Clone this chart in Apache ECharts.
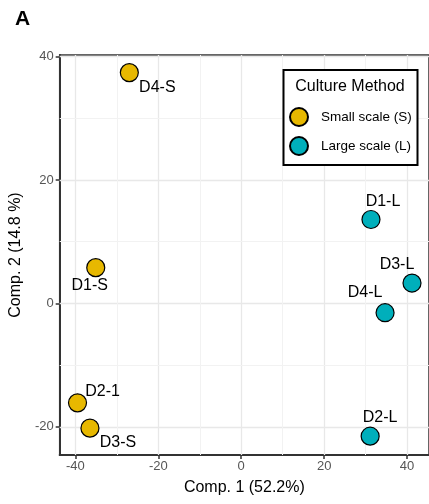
<!DOCTYPE html>
<html>
<head>
<meta charset="utf-8">
<script src="https://cdn.jsdelivr.net/npm/echarts@6/dist/echarts.min.js"></script>
<style>
  html, body { margin: 0; padding: 0; background: #fff; }
  #main { width: 429px; height: 504px; }
</style>
</head>
<body>
<div id="main"></div>
<script>
'use strict';

// PCA scores
const sampleNames = ['D4-S', 'D1-S', 'D2-1', 'D3-S', 'D1-L', 'D3-L', 'D4-L', 'D2-L'];
const comp1 = [-27.0, -35.1, -39.5, -36.5, 31.3, 41.2, 34.7, 31.1];
const comp2 = [37.4, 5.8, -16.1, -20.2, 13.6, 3.3, -1.5, -21.5];
const culture = ['S', 'S', 'S', 'S', 'L', 'L', 'L', 'L'];

const groupKeys = ['S', 'L'];
const groupNames = ['Small scale (S)', 'Large scale (L)'];
const groupColors = ['#E7B800', '#00AFBB'];

const majorTicks = [-40, -20, 0, 20, 40];
const xMinor = [-30, -10, 10, 30];
const yMinor = [-10, 10, 30];

// repelled label placement (px from point centre)
const labelOffsets = {
    'D4-S': [28, 15], 'D1-S': [-6, 18], 'D2-1': [25, -11], 'D3-S': [28, 14],
    'D1-L': [12, -18], 'D3-L': [-15, -18], 'D4-L': [-20, -20], 'D2-L': [10, -19]
};

const FONT = 'Liberation Sans, Arial, sans-serif';

function groupData(key) {
    const out = [];
    sampleNames.forEach(function (name, i) {
        if (culture[i] !== key) return;
        out.push({
            name: name,
            value: [comp1[i], comp2[i]],
            label: { offset: labelOffsets[name] }
        });
    });
    return out;
}

const majorStyle = { color: '#e8e8e8', width: 1.3, type: 'solid' };
const minorStyle = { color: '#f2f2f2', width: 1, type: 'solid' };
const gridLines = [];
majorTicks.forEach(function (v) {
    gridLines.push({ xAxis: v, lineStyle: majorStyle });
    gridLines.push({ yAxis: v, lineStyle: majorStyle });
});
xMinor.forEach(function (v) {
    gridLines.push({ xAxis: v, lineStyle: minorStyle });
});
yMinor.forEach(function (v) {
    gridLines.push({ yAxis: v, lineStyle: minorStyle });
});

const series = [{
    type: 'line',
    data: [],
    silent: true,
    z: 0,
    markLine: {
        silent: true,
        symbol: 'none',
        label: { show: false },
        animation: false,
        lineStyle: { type: 'solid' },
        data: gridLines
    }
}];

groupKeys.forEach(function (key, gi) {
    series.push({
        name: groupNames[gi],
        type: 'scatter',
        z: 5,
        symbol: 'circle',
        symbolSize: 18,
        itemStyle: { color: groupColors[gi], borderColor: '#000', borderWidth: 1.2, opacity: 1 },
        label: {
            show: true,
            position: 'inside',
            align: 'center',
            verticalAlign: 'middle',
            formatter: '{b}',
            color: '#000',
            fontSize: 16,
            fontFamily: FONT
        },
        emphasis: { disabled: true },
        data: groupData(key)
    });
});

const option = {
    animation: false,
    backgroundColor: '#fff',
    grid: {
        left: 57, top: 55, bottom: 49, right: -4,
        show: true, borderColor: '#333', borderWidth: 1.5, backgroundColor: 'transparent'
    },
    xAxis: {
        type: 'value',
        min: -43.8, max: 45.3,
        name: 'Comp. 1 (52.2%)',
        nameLocation: 'middle',
        nameGap: 25,
        nameTextStyle: { color: '#000', fontSize: 16, fontFamily: FONT },
        axisLine: { show: true, onZero: false, lineStyle: { color: '#333', width: 2 } },
        axisTick: { show: true, customValues: majorTicks, length: 4, lineStyle: { color: '#333', width: 1.5 } },
        axisLabel: { customValues: majorTicks, color: '#555', fontSize: 13, fontFamily: FONT, margin: 5 },
        splitLine: { show: false }
    },
    yAxis: {
        type: 'value',
        min: -24.55, max: 40.25,
        name: 'Comp. 2 (14.8 %)',
        nameLocation: 'middle',
        nameGap: 32,
        nameTextStyle: { color: '#000', fontSize: 16, fontFamily: FONT },
        axisLine: { show: true, onZero: false, lineStyle: { color: '#333', width: 2 } },
        axisTick: { show: true, customValues: majorTicks, length: 4, lineStyle: { color: '#333', width: 1.5 } },
        axisLabel: { customValues: majorTicks, color: '#555', fontSize: 13, fontFamily: FONT, margin: 6 },
        splitLine: { show: false }
    },
    legend: {
        data: groupNames,
        orient: 'vertical',
        left: 289, top: 107,
        padding: 0,
        z: 8,
        icon: 'circle',
        itemWidth: 18, itemHeight: 18,
        itemGap: 9,
        selectedMode: false,
        textStyle: { color: '#000', fontSize: 13.5, fontFamily: FONT, padding: [0, 0, 0, 8] }
    },
    graphic: [
        {
            type: 'text', left: 15, top: 9,
            style: { text: 'A', font: 'bold 21px ' + FONT, fill: '#000' }
        },
        {
            type: 'rect', z: 6,
            shape: { x: 283.5, y: 70, width: 134, height: 95 },
            style: { fill: '#fff', stroke: '#000', lineWidth: 2 }
        },
        {
            type: 'text', z: 7, x: 350, y: 87,
            style: { text: 'Culture Method', font: '16px ' + FONT, fill: '#000', align: 'center', verticalAlign: 'middle' }
        }
    ],
    series: series
};

window.onload = function () {
    const chart = echarts.init(document.getElementById('main'));
    chart.setOption(option);
};
</script>
</body>
</html>
